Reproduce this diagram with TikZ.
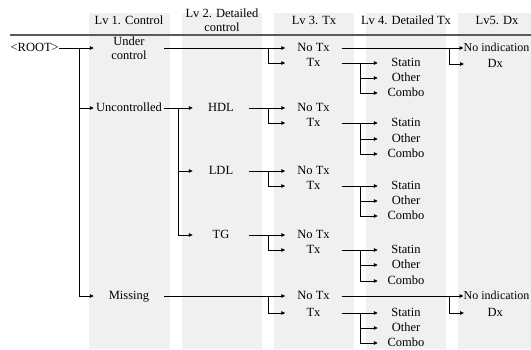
\documentclass[tikz,border=0pt]{standalone}
\usepackage{fontspec}
\setmainfont{Liberation Serif}
\usetikzlibrary{arrows.meta}
\definecolor{colbg}{RGB}{240,240,240}
\definecolor{rulegray}{RGB}{90,90,90}
\begin{document}
\begin{tikzpicture}[x=1pt,y=-1pt,
  lab/.style={font=\fontsize{12.5}{14.5}\selectfont, inner sep=0pt, align=center},
  one/.style={lab, text height=8.5pt, text depth=2.5pt},
  cA/.style={one, minimum width=70pt},
  cAtwo/.style={lab, minimum width=70pt},
  cB/.style={one, minimum width=56pt},
  cE/.style={one, minimum width=62pt, anchor=west},
  cEn/.style={cE, font=\fontsize{12}{14.5}\selectfont},
  hdr/.style={lab},
  con/.style={draw=black, line width=0.8pt},
  arr/.style={con, -{Triangle[length=4pt,width=3.5pt]}},
  bg/.style={fill=colbg, draw=none}
]
\useasboundingbox (0,0) rectangle (531,349);
% column backgrounds
\path[bg] (89,13) rectangle (170,349);
\path[bg] (182,13) rectangle (262,349);
\path[bg] (274,13) rectangle (354,349);
\path[bg] (366,13) rectangle (446,349);
\path[bg] (458,13) rectangle (531,349);
% headers
\node[hdr] (h1) at (129,20) {Lv 1. Control};
\node[hdr] (h2) at (222,20) {Lv 2. Detailed\\control};
\node[hdr] (h3) at (314,20) {Lv 3. Tx};
\node[hdr] (h4) at (406,20) {Lv 4. Detailed Tx};
\node[hdr] (h5) at (497,20) {Lv5. Dx};
\coordinate (rl) at (10,35);
\coordinate (rr) at (531,35);
\draw[draw=rulegray, line width=1.3pt] (rl) -- (rr);
% trunk coordinates
\coordinate (t0) at (79,0);
\coordinate (t1) at (178,0);
\coordinate (t2) at (268,0);
\coordinate (t3) at (360,0);
\coordinate (t4) at (449,0);
% level 0/1
\node[one, anchor=east] (root) at (59,48) {\textless ROOT\textgreater};
\node[cAtwo] (uc) at (129,48) {Under\\control};
\node[cA] (unc) at (129,108) {Uncontrolled};
\node[cA] (miss) at (129,296) {Missing};
% level 2
\node[cB] (hdl) at (221,108) {HDL};
\node[cB] (ldl) at (221,171) {LDL};
\node[cB] (tg) at (221,235) {TG};
% level 3,4 groups
\foreach \g/\yn/\yt/\yo/\yc in {1/48/63/78/93, 2/108/123/139/154, 3/171/186/201/216, 4/235/250/265/281, 5/296/313/328/343}{
  \node[cB] (nt\g) at (313.5,\yn) {No Tx};
  \node[cB] (tx\g) at (313.5,\yt) {Tx};
  \node[cB] (st\g) at (406,\yt) {Statin};
  \node[cB] (ot\g) at (406,\yo) {Other};
  \node[cB] (co\g) at (406,\yc) {Combo};
}
% level 5
\node[cEn] (ni1) at (463.5,48) {No indication};
\node[cE] (dx1) at (464,64) {Dx};
\node[cEn] (ni5) at (463.5,296) {No indication};
\node[cE] (dx5) at (464,313) {Dx};
% connectors
\newcommand\forkto[3]{%
  \draw[con] (#1.east) -- (#1.east -| #2);
  \foreach \tt in {#3} \draw[arr] (#1.east -| #2) |- (\tt.west);}
\draw[con] (root.east -| t0) -- (t0 |- miss.west);
\forkto{root}{t0}{uc,unc,miss}
\forkto{unc}{t1}{hdl,ldl,tg}
\forkto{uc}{t2}{nt1,tx1}
\forkto{hdl}{t2}{nt2,tx2}
\forkto{ldl}{t2}{nt3,tx3}
\forkto{tg}{t2}{nt4,tx4}
\forkto{miss}{t2}{nt5,tx5}
\foreach \g in {1,...,5}{\forkto{tx\g}{t3}{st\g,ot\g,co\g}}
\forkto{nt1}{t4}{ni1,dx1}
\forkto{nt5}{t4}{ni5,dx5}
\end{tikzpicture}
\end{document}
